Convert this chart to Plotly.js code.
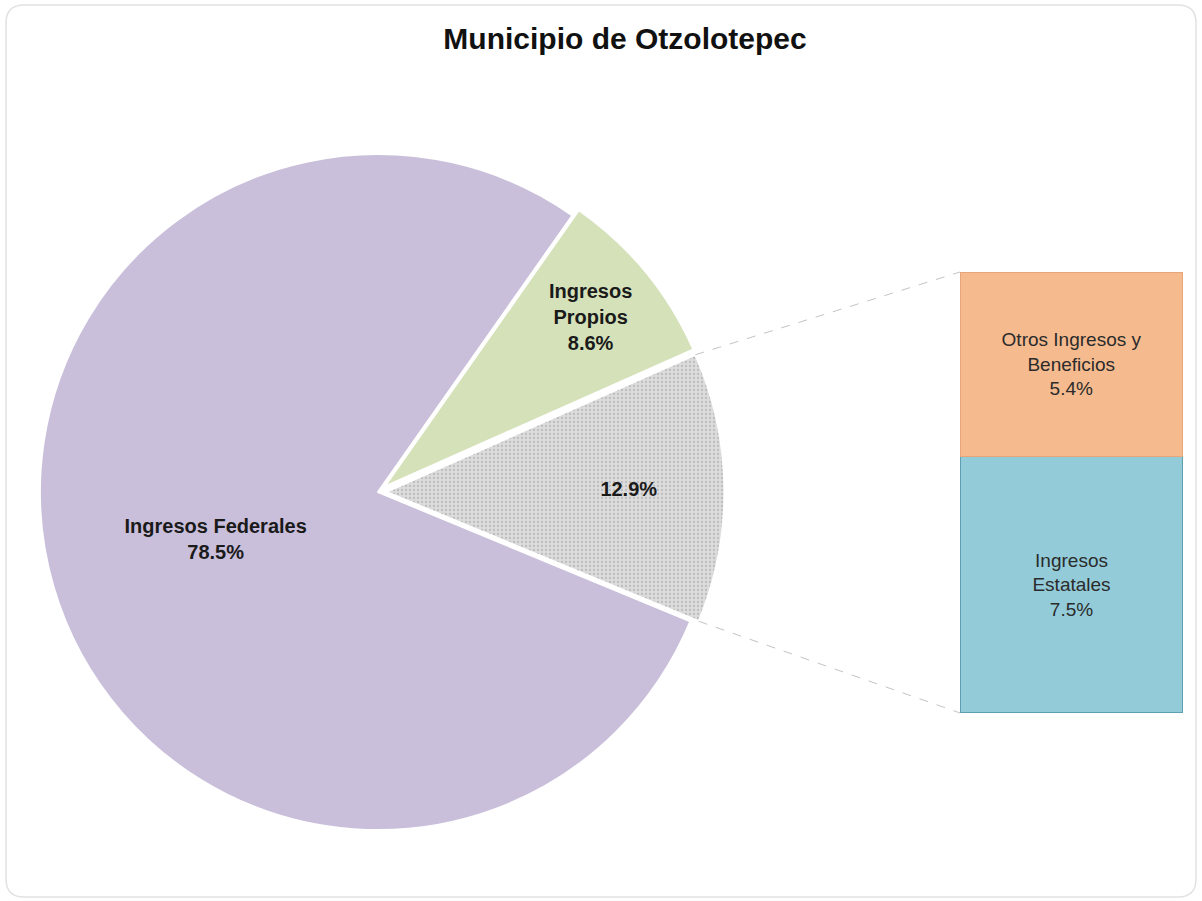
<!DOCTYPE html>
<html>
<head>
<meta charset="utf-8">
<script src="https://cdn.plot.ly/plotly-3.0.1.min.js"></script>
<style>html,body{margin:0;padding:0;background:#fff;}#chart{width:1202px;height:901px;}</style>
</head>
<body>
<div id="chart"></div>
<script>
// ---- data ----
const pieCategories = ['Ingresos Propios', 'Otros', 'Ingresos Federales'];
const pieLabels = ['Ingresos<br>Propios', '', 'Ingresos Federales'];
const pieValues = [8.6, 12.9, 78.5];

const barCategories = ['Ingresos Estatales', 'Otros Ingresos y Beneficios'];
const barLabels = ['Ingresos<br>Estatales', 'Otros Ingresos y<br>Beneficios'];
const barValues = [7.5, 5.4];

const titleText = 'Municipio de Otzolotepec';

// ---- geometry ----
const W = 1202, H = 901;
const pieDomX = [0.0262, 0.6027];
const pieDomY = [0.0693, 0.8385];
const pull = [0.025, 0.025, 0];
const rotation = 35.1;
const barDomX = [0.7987, 0.9842];
const barDomY = [0.2087, 0.6981];

const pieText = pieLabels.map(l => l ? l + '<br>' : '');

const pieTrace = {
  type: 'pie',
  labels: pieCategories,
  values: pieValues,
  text: pieText,
  texttemplate: '<b>%{text}%{percent:.1%}</b>',
  textinfo: 'text',
  textposition: 'inside',
  insidetextorientation: 'horizontal',
  textfont: {family: 'Liberation Sans, Arial, sans-serif', size: 20, color: '#1a1a1a'},
  sort: false,
  direction: 'clockwise',
  rotation: rotation,
  pull: pull,
  domain: {x: pieDomX, y: pieDomY},
  marker: {
    colors: ['#d5e1b9', '#dadada', '#c9bfda'],
    line: {color: '#ffffff', width: 2},
    pattern: {shape: ['', '.', ''], fgcolor: '#bdbdbd', bgcolor: '#dcdcdc', size: 4, solidity: 0.25}
  },
  hoverinfo: 'label+percent',
  showlegend: false
};

const barColors = ['#93cbd9', '#f5bb8f'];
const barLines = ['#5f9fb2', '#e7a677'];
const barTraces = barCategories.map((c, i) => ({
  type: 'bar',
  name: c,
  x: [0],
  y: [barValues[i]],
  text: [barLabels[i]],
  texttemplate: '%{text}<br>%{y:.1f}%',
  textposition: 'inside',
  insidetextanchor: 'middle',
  textfont: {family: 'Liberation Sans, Arial, sans-serif', size: 19, color: '#2b2b2b'},
  marker: {color: barColors[i], line: {color: barLines[i], width: 1.5}},
  width: 1,
  xaxis: 'x', yaxis: 'y',
  showlegend: false,
  hoverinfo: 'name+y'
}));

// connector lines computed from pie geometry
const total = pieValues.reduce((a, b) => a + b, 0);
const halfW = (pieDomX[1] - pieDomX[0]) * W / 2;
const halfH = (pieDomY[1] - pieDomY[0]) * H / 2;
const maxPull = Math.max(...pull);
const r = Math.min(halfW, halfH) / (1 + maxPull);
const cx = (pieDomX[0] + pieDomX[1]) / 2 * W;
const cy = (1 - (pieDomY[0] + pieDomY[1]) / 2) * H;
const deg = Math.PI / 180;
let startAngle = 90 - rotation;
const startOther = startAngle - pieValues[0] / total * 360;
const endOther = startOther - pieValues[1] / total * 360;
const midOther = (startOther + endOther) / 2;
const offX = pull[1] * r * Math.cos(midOther * deg);
const offY = -pull[1] * r * Math.sin(midOther * deg);
const pTop = [cx + offX + r * Math.cos(startOther * deg), cy + offY - r * Math.sin(startOther * deg)];
const pBot = [cx + offX + r * Math.cos(endOther * deg), cy + offY - r * Math.sin(endOther * deg)];
const barTotal = barValues.reduce((a, b) => a + b, 0);
const px = p => p / W, py = p => 1 - p / H;

const barLeftPaper = barDomX[0];
const shapes = [
  {type: 'line', xref: 'paper', yref: 'paper', x0: px(pTop[0]), y0: py(pTop[1]), x1: barLeftPaper, y1: barDomY[1],
   line: {color: '#c4c4c4', width: 1, dash: 'dash'}},
  {type: 'line', xref: 'paper', yref: 'paper', x0: px(pBot[0]), y0: py(pBot[1]), x1: barLeftPaper, y1: barDomY[0],
   line: {color: '#c4c4c4', width: 1, dash: 'dash'}}
];
// rounded chart border
(function () {
  const x0 = 6, y0 = 5, x1 = 1196, y1 = 897, rr = 18;
  const P = (x, y) => px(x).toFixed(5) + ',' + py(y).toFixed(5);
  const path = 'M ' + P(x0 + rr, y0) + ' L ' + P(x1 - rr, y0) + ' Q ' + P(x1, y0) + ' ' + P(x1, y0 + rr) +
    ' L ' + P(x1, y1 - rr) + ' Q ' + P(x1, y1) + ' ' + P(x1 - rr, y1) +
    ' L ' + P(x0 + rr, y1) + ' Q ' + P(x0, y1) + ' ' + P(x0, y1 - rr) +
    ' L ' + P(x0, y0 + rr) + ' Q ' + P(x0, y0) + ' ' + P(x0 + rr, y0) + ' Z';
  shapes.push({type: 'path', xref: 'paper', yref: 'paper', path: path, line: {color: '#e2e2e2', width: 1.5}, layer: 'below'});
})();

const layout = {
  width: W, height: H,
  margin: {l: 0, r: 0, t: 0, b: 0},
  paper_bgcolor: '#ffffff',
  plot_bgcolor: 'rgba(0,0,0,0)',
  title: {text: '<b>' + titleText + '</b>', x: 0.52, xanchor: 'center', y: 1 - 38 / H, yanchor: 'middle',
          font: {family: 'Liberation Sans, Arial, sans-serif', size: 30, color: '#111'}},
  barmode: 'stack',
  bargap: 0,
  xaxis: {domain: barDomX, range: [-0.5, 0.5], visible: false, fixedrange: true},
  yaxis: {domain: barDomY, range: [0, barTotal], visible: false, fixedrange: true},
  shapes: shapes,
  showlegend: false
};

Plotly.newPlot('chart', [pieTrace, ...barTraces], layout, {displayModeBar: false, staticPlot: true});
</script>
</body>
</html>
